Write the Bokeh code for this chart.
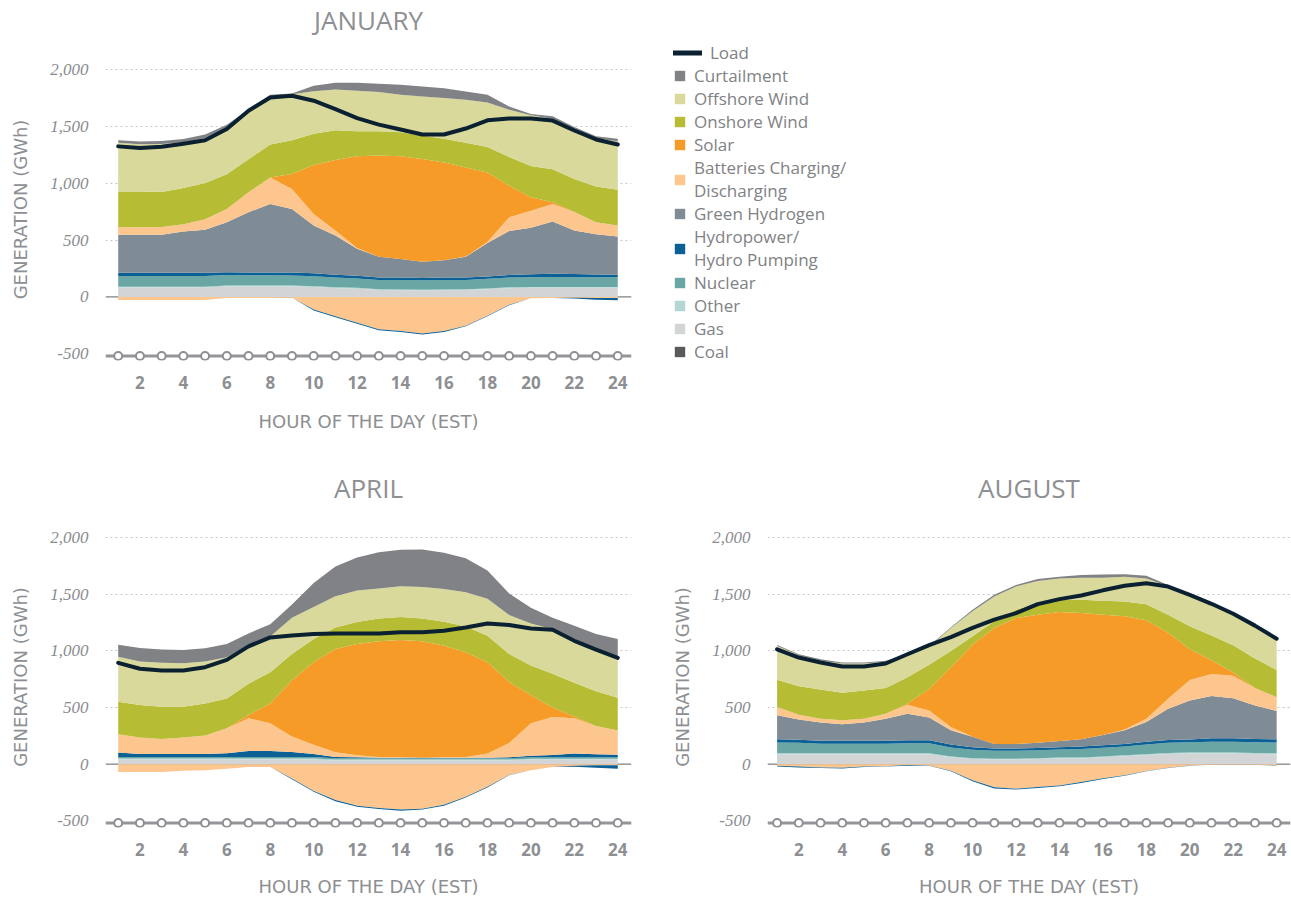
from bokeh.plotting import figure
from bokeh.models import (ColumnDataSource, Range1d, FixedTicker, NumeralTickFormatter,
                          Span, Legend, LegendItem, Label)
from bokeh.layouts import row, column
from bokeh.embed import file_html
from bokeh.resources import INLINE

hours = list(range(1, 25))
x_ticks = [2, 4, 6, 8, 10, 12, 14, 16, 18, 20, 22, 24]
y_ticks = [-500, 0, 500, 1000, 1500, 2000]

# ---------------- JANUARY (GWh) ----------------
jan_coal = [0, 0, 0, 0, 0, 0, 0, 0, 0, 0, 0, 0, 0, 0, 0, 0, 0, 0, 0, 0, 0, 0, 0, 0]
jan_gas = [82, 82, 82, 82, 82, 92, 92, 92, 92, 87, 77, 72, 60, 58, 56, 58, 60, 67, 77, 80, 80, 80, 80, 80]
jan_other = [8, 8, 8, 8, 8, 8, 8, 8, 8, 8, 8, 8, 8, 8, 8, 8, 8, 8, 8, 8, 8, 8, 8, 8]
jan_nuclear = [95, 95, 95, 95, 95, 92, 90, 90, 88, 86, 85, 82, 82, 84, 82, 84, 82, 85, 85, 86, 88, 86, 85, 85]
jan_hydro = [28, 28, 28, 28, 28, 26, 24, 24, 26, 28, 26, 24, 22, 20, 20, 20, 20, 20, 22, 25, 28, 28, 25, 23]
jan_green_h2 = [335, 335, 335, 364, 379, 440, 532, 605, 561, 420, 344, 239, 181, 165, 143, 153, 183, 295, 388, 410, 460, 384, 353, 337]
jan_battery = [66, 66, 68, 63, 92, 117, 175, 233, 175, 102, 46, 5, 0, 0, 0, 0, 2, 8, 122, 151, 155, 162, 107, 96]
jan_solar = [0, 0, 0, 0, 0, 0, 0, 0, 133, 432, 620, 809, 892, 905, 906, 862, 785, 613, 277, 117, 14, 0, 0, 0]
jan_onshore = [315, 315, 309, 320, 319, 306, 291, 291, 298, 274, 263, 221, 215, 211, 207, 208, 218, 224, 254, 277, 292, 291, 315, 315]
jan_offshore = [429, 416, 421, 402, 397, 409, 428, 422, 404, 375, 357, 357, 344, 329, 344, 358, 379, 393, 416, 446, 445, 437, 423, 428]
jan_curtail = [23, 25, 27, 28, 30, 26, 10, 15, 7, 48, 60, 69, 73, 88, 87, 87, 72, 67, 29, 11, 21, 21, 20, 21]
jan_bat_charge = [-28, -28, -28, -28, -28, -10, -10, -10, -5, -110, -170, -228, -285, -300, -323, -300, -253, -165, -70, -12, -10, -8, -10, -10]
jan_pumping = [0, 0, 0, 0, 0, 0, 0, 0, 0, -10, -8, -8, -8, -10, -8, -10, -6, -5, -3, 0, 0, -5, -15, -20]
jan_load = [1326, 1312, 1322, 1350, 1380, 1479, 1640, 1757, 1772, 1728, 1654, 1575, 1518, 1474, 1431, 1431, 1483, 1556, 1571, 1571, 1553, 1466, 1387, 1343]

# ---------------- APRIL (GWh) ----------------
apr_coal = [0, 0, 0, 0, 0, 0, 0, 0, 0, 0, 0, 0, 0, 0, 0, 0, 0, 0, 0, 0, 0, 0, 0, 0]
apr_gas = [42, 42, 42, 42, 42, 42, 42, 42, 42, 42, 32, 32, 32, 32, 32, 32, 32, 32, 32, 40, 40, 40, 40, 40]
apr_other = [8, 8, 8, 8, 8, 8, 8, 8, 8, 8, 8, 8, 8, 8, 8, 8, 8, 8, 8, 8, 8, 8, 8, 8]
apr_nuclear = [12, 12, 12, 12, 12, 12, 12, 12, 12, 12, 12, 12, 12, 12, 12, 12, 12, 12, 12, 12, 12, 12, 12, 12]
apr_hydro = [40, 28, 28, 28, 28, 35, 55, 55, 45, 28, 12, 8, 5, 5, 5, 5, 5, 5, 8, 14, 20, 35, 28, 22]
apr_green_h2 = [0, 0, 0, 0, 0, 0, 0, 0, 0, 0, 0, 0, 0, 0, 0, 0, 0, 0, 0, 0, 0, 0, 0, 0]
apr_battery = [163, 146, 132, 146, 164, 221, 288, 245, 138, 82, 41, 19, 7, 7, 0, 7, 7, 36, 127, 288, 337, 310, 250, 215]
apr_solar = [0, 0, 0, 0, 0, 0, 29, 174, 496, 729, 912, 982, 1021, 1032, 1030, 983, 924, 808, 539, 247, 84, 15, 0, 0]
apr_onshore = [286, 286, 285, 271, 282, 262, 277, 277, 233, 204, 190, 196, 201, 204, 201, 212, 228, 233, 248, 263, 298, 300, 306, 289]
apr_offshore = [399, 385, 388, 385, 371, 365, 336, 315, 320, 283, 277, 277, 265, 271, 277, 289, 303, 327, 344, 370, 393, 385, 373, 359]
apr_curtail = [105, 119, 117, 117, 116, 116, 108, 108, 117, 213, 262, 291, 321, 324, 332, 321, 300, 250, 189, 140, 102, 117, 132, 160]
apr_bat_charge = [-70, -70, -70, -58, -55, -41, -26, -26, -128, -237, -318, -368, -388, -402, -394, -360, -288, -200, -95, -55, -26, -15, -10, -10]
apr_pumping = [0, 0, 0, 0, 0, 0, 0, 0, -6, -8, -9, -8, -9, -9, -8, -7, -6, -7, -4, 0, 0, -8, -22, -30]
apr_load = [895, 843, 828, 828, 857, 921, 1041, 1120, 1137, 1149, 1155, 1155, 1155, 1166, 1166, 1178, 1207, 1242, 1230, 1198, 1187, 1090, 1012, 939]

# ---------------- AUGUST (GWh) ----------------
aug_coal = [0, 0, 0, 0, 0, 0, 0, 0, 0, 0, 0, 0, 0, 0, 0, 0, 0, 0, 0, 0, 0, 0, 0, 0]
aug_gas = [88, 88, 88, 88, 88, 88, 88, 88, 60, 45, 40, 40, 45, 50, 50, 60, 70, 80, 90, 95, 95, 95, 90, 88]
aug_other = [8, 8, 8, 8, 8, 8, 8, 8, 8, 8, 8, 8, 8, 8, 8, 8, 8, 8, 8, 8, 8, 8, 8, 8]
aug_nuclear = [95, 92, 85, 85, 85, 85, 88, 88, 80, 75, 70, 70, 70, 72, 75, 76, 78, 85, 90, 90, 95, 95, 95, 95]
aug_hydro = [28, 28, 25, 25, 25, 25, 28, 28, 25, 22, 20, 20, 20, 20, 22, 22, 22, 25, 25, 25, 30, 30, 30, 28]
aug_green_h2 = [212, 178, 161, 147, 161, 196, 234, 199, 127, 92, 40, 40, 47, 54, 64, 91, 122, 175, 277, 345, 373, 355, 296, 250]
aug_battery = [73, 43, 35, 35, 35, 44, 79, 64, 29, 0, 0, 0, 0, 0, 0, 0, 6, 29, 87, 180, 195, 198, 154, 123]
aug_solar = [0, 0, 0, 0, 0, 0, 9, 190, 525, 816, 1026, 1114, 1131, 1140, 1116, 1064, 1000, 869, 583, 272, 122, 29, 0, 0]
aug_onshore = [242, 251, 257, 242, 248, 227, 233, 213, 146, 73, 58, 72, 102, 108, 117, 122, 131, 143, 161, 204, 219, 240, 260, 239]
aug_offshore = [298, 274, 254, 259, 239, 231, 189, 157, 204, 219, 219, 205, 195, 189, 195, 204, 219, 227, 253, 271, 277, 277, 286, 271]
aug_curtail = [8, 9, 14, 9, 9, 9, 15, 9, 6, 14, 15, 14, 18, 15, 24, 29, 23, 24, 9, 0, 0, 0, 0, 0]
aug_bat_charge = [-15, -22, -30, -33, -22, -18, -8, -12, -58, -142, -205, -218, -203, -188, -158, -125, -98, -60, -32, -13, -5, -5, -5, -12]
aug_pumping = [-5, -7, -5, -5, -4, -2, -7, -3, -6, -10, -11, -6, -7, -7, -8, -6, -4, -4, -3, -2, -1, -1, -1, -3]
aug_load = [1015, 942, 898, 863, 863, 889, 971, 1052, 1122, 1204, 1277, 1335, 1414, 1458, 1490, 1536, 1577, 1598, 1569, 1496, 1417, 1329, 1224, 1108]

# ---------------- styling ----------------
COLORS = {
    "coal": "#58595b", "gas": "#d2d4d5", "other": "#b3d6d3", "nuclear": "#6aa7a4",
    "hydro": "#0b6096", "green_h2": "#7f8b95", "battery": "#fdc68f", "solar": "#f69a28",
    "onshore": "#b6bd34", "offshore": "#d8d99b", "curtail": "#808285",
}
LOAD_COLOR = "#0b2131"
POS_STACK = ["coal", "gas", "other", "nuclear", "hydro", "green_h2", "battery",
             "solar", "onshore", "offshore", "curtail"]
NEG_STACK = ["bat_charge", "pumping"]
NEG_COLORS = [COLORS["battery"], COLORS["hydro"]]
GREY_TXT = "#8d8f92"
PX_PER_HOUR = 21.72
FRAME_H = 302
Y_START, Y_END = -560, 2100
AXIS_DECO_Y = -520
TITLE_STYLE = dict(text_font="Open Sans", text_font_style="normal",
                   text_font_size="26px", text_color=GREY_TXT)


def make_source(prefix):
    g = globals()
    d = {"hour": hours}
    for k in POS_STACK + NEG_STACK + ["load"]:
        d[k] = g[f"{prefix}_{k}"]
    return ColumnDataSource(d)


def title_strip(text, width, height, left, right, center_from_top):
    """Thin figure above a chart that only carries the chart's title."""
    s = figure(width=width, height=height, toolbar_location=None, output_backend="svg",
               x_axis_type=None, y_axis_type=None, x_range=Range1d(0, 1),
               y_range=Range1d(0, 1), min_border_left=left, min_border_right=right,
               min_border_top=0, min_border_bottom=0, outline_line_color=None)
    s.add_layout(Label(x=0.5, y=1 - center_from_top / height, text=text,
                       text_align="center", text_baseline="middle", **TITLE_STYLE))
    return s


def make_chart(prefix, width, height, left, right, top, first_hour_px, label_standoff):
    frame_w = width - left - right
    bottom = height - top - FRAME_H
    x0 = 1 - first_hour_px / PX_PER_HOUR
    x1 = x0 + frame_w / PX_PER_HOUR
    p = figure(width=width, height=height, toolbar_location=None, output_backend="svg",
               x_range=Range1d(x0, x1), y_range=Range1d(Y_START, Y_END),
               min_border_left=left, min_border_right=right,
               min_border_top=top, min_border_bottom=bottom,
               outline_line_color=None)

    src = make_source(prefix)
    p.add_layout(Span(location=0, dimension="width", line_color="#5f6062",
                      line_width=1, level="underlay"))
    p.add_layout(Span(location=AXIS_DECO_Y, dimension="width", line_color="#939598",
                      line_width=3, level="underlay"))

    p.varea_stack(stackers=POS_STACK, x="hour", color=[COLORS[k] for k in POS_STACK],
                  source=src)
    p.varea_stack(stackers=NEG_STACK, x="hour", color=NEG_COLORS, source=src)
    p.line("hour", "load", source=src, line_width=4, line_color=LOAD_COLOR,
           line_join="round", line_cap="round")
    p.scatter(x=hours, y=[AXIS_DECO_Y] * len(hours), marker="circle", size=8,
              fill_color="white", line_color="#8d8f92", line_width=2)

    p.xaxis.ticker = FixedTicker(ticks=x_ticks)
    p.xaxis.axis_line_color = None
    p.xaxis.major_tick_line_color = None
    p.xaxis.minor_tick_line_color = None
    p.xaxis.major_label_standoff = 9
    p.xaxis.major_label_text_font = "Open Sans"
    p.xaxis.major_label_text_font_style = "bold"
    p.xaxis.major_label_text_font_size = "17px"
    p.xaxis.major_label_text_color = GREY_TXT
    p.xaxis.axis_label = "HOUR OF THE DAY (EST)"
    p.xaxis.axis_label_standoff = label_standoff
    p.xaxis.axis_label_text_font = "DejaVu Sans"
    p.xaxis.axis_label_text_font_style = "normal"
    p.xaxis.axis_label_text_font_size = "18px"
    p.xaxis.axis_label_text_color = GREY_TXT

    p.yaxis.ticker = FixedTicker(ticks=y_ticks)
    p.yaxis.formatter = NumeralTickFormatter(format="0,0")
    p.yaxis.axis_line_color = None
    p.yaxis.major_tick_line_color = None
    p.yaxis.minor_tick_line_color = None
    p.yaxis.major_label_standoff = 11
    p.yaxis.major_label_text_font = "Liberation Serif"
    p.yaxis.major_label_text_font_style = "italic"
    p.yaxis.major_label_text_font_size = "17px"
    p.yaxis.major_label_text_color = "#8a8c8e"
    p.yaxis.axis_label = "GENERATION (GWh)"
    p.yaxis.axis_label_standoff = 16
    p.yaxis.axis_label_text_font = "DejaVu Sans"
    p.yaxis.axis_label_text_font_style = "normal"
    p.yaxis.axis_label_text_font_size = "18px"
    p.yaxis.axis_label_text_color = GREY_TXT

    p.xgrid.visible = False
    p.ygrid.ticker = FixedTicker(ticks=[500, 1000, 1500, 2000])
    p.ygrid.grid_line_color = "#c4c6c8"
    p.ygrid.grid_line_dash = "2 3"
    p.ygrid.grid_line_width = 1
    return p


jan_title = title_strip("JANUARY", 660, 40, 105, 29, 19)
jan = make_chart("jan", 660, 410, 105, 29, 18, 12.7, 19)
apr_title = title_strip("APRIL", 660, 60, 105, 29, 37)
apr = make_chart("apr", 660, 389, 105, 29, 16, 12.7, 17)
aug_title = title_strip("AUGUST", 631, 60, 107, 1, 37)
aug = make_chart("aug", 631, 389, 107, 1, 16, 9.6, 17)

# ---------------- legend ----------------
LEGEND_LABELS = [
    ("curtail", "Curtailment"), ("offshore", "Offshore Wind"), ("onshore", "Onshore Wind"),
    ("solar", "Solar"), ("battery", "Batteries Charging/\nDischarging"),
    ("green_h2", "Green Hydrogen"), ("hydro", "Hydropower/\nHydro Pumping"),
    ("nuclear", "Nuclear"), ("other", "Other"), ("gas", "Gas"), ("coal", "Coal"),
]


def legend_style(lg):
    lg.location = "top_left"
    lg.margin = 0
    lg.padding = 0
    lg.spacing = 0
    lg.label_standoff = 8
    lg.label_height = 20
    lg.label_text_font = "Open Sans"
    lg.label_text_font_size = "17px"
    lg.label_text_color = "#808285"
    lg.label_text_line_height = 1.28
    lg.border_line_color = None
    lg.background_fill_alpha = 0


def blank_fig(h, top):
    # legend-only panel; the dummy renderers below sit outside its fixed ranges
    return figure(width=631, height=h, toolbar_location=None, output_backend="svg",
                  x_axis_type=None, y_axis_type=None, min_border_left=13,
                  min_border_right=0, min_border_top=top, min_border_bottom=0,
                  x_range=Range1d(0, 1), y_range=Range1d(0, 1),
                  outline_line_color=None)


legA = blank_fig(64, 41)
r_load = legA.line(x=[5, 6], y=[5, 5], line_color=LOAD_COLOR, line_width=5,
                   line_cap="round")
la = Legend(items=[LegendItem(label="Load", renderers=[r_load])])
legend_style(la)
la.glyph_width = 29
la.glyph_height = 13
legA.add_layout(la)

legB = blank_fig(386, 0)
items = []
for key, lab in LEGEND_LABELS:
    r = legB.varea(x=[5, 6], y1=[5, 5], y2=[6, 6], fill_color=COLORS[key])
    items.append(LegendItem(label=lab, renderers=[r]))
lb = Legend(items=items)
legend_style(lb)
lb.glyph_width = 13
lb.glyph_height = 13
legB.add_layout(lb)

layout = column(
    row(column(jan_title, jan), column(legA, legB)),
    row(column(apr_title, apr), column(aug_title, aug)),
)

open("out.html", "w").write(file_html(layout, INLINE))
